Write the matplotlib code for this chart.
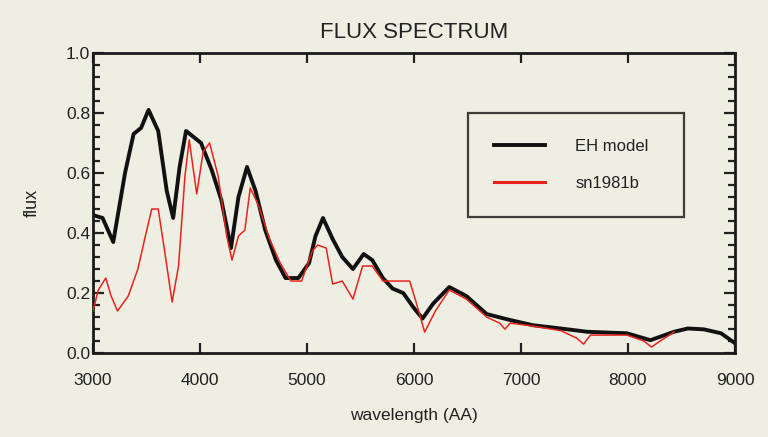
import matplotlib.pyplot as plt
from matplotlib.ticker import MultipleLocator

# EH model (czarna linia)
eh_wave = [3000, 3090, 3190, 3300, 3380, 3450, 3520, 3610, 3690, 3750, 3810, 3870, 3940,
           4010, 4110, 4200, 4290, 4360, 4440, 4520, 4610, 4710, 4800, 4920, 5020, 5080,
           5150, 5240, 5330, 5430, 5530, 5610, 5710, 5800, 5900, 6000, 6080, 6180, 6330,
           6490, 6680, 6900, 7110, 7370, 7620, 7990, 8210, 8430, 8560, 8710, 8870, 9000]
eh_flux = [0.46, 0.45, 0.37, 0.60, 0.73, 0.75, 0.81, 0.74, 0.54, 0.45, 0.62, 0.74, 0.72,
           0.70, 0.61, 0.51, 0.35, 0.52, 0.62, 0.54, 0.41, 0.31, 0.25, 0.25, 0.30, 0.39,
           0.45, 0.38, 0.32, 0.28, 0.33, 0.31, 0.25, 0.215, 0.20, 0.15, 0.115, 0.165, 0.22,
           0.19, 0.13, 0.11, 0.093, 0.082, 0.071, 0.066, 0.043, 0.071, 0.082, 0.079, 0.066, 0.033]

# sn1981b (czerwona linia)
sn_wave = [3000, 3050, 3120, 3170, 3230, 3330, 3420, 3490, 3550, 3610, 3670, 3740, 3800,
           3860, 3900, 3970, 4030, 4090, 4170, 4250, 4300, 4360, 4420, 4470, 4550, 4650,
           4750, 4850, 4950, 5050, 5100, 5180, 5240, 5330, 5430, 5520, 5610, 5710, 5830,
           5960, 6020, 6100, 6200, 6330, 6490, 6680, 6800, 6850, 6900, 7110, 7370, 7520,
           7585, 7650, 7990, 8150, 8220, 8300, 8430]
sn_flux = [0.14, 0.21, 0.25, 0.19, 0.14, 0.19, 0.28, 0.39, 0.48, 0.48, 0.34, 0.17, 0.29,
           0.59, 0.71, 0.53, 0.67, 0.70, 0.59, 0.39, 0.31, 0.39, 0.41, 0.55, 0.49, 0.38,
           0.30, 0.24, 0.24, 0.34, 0.36, 0.35, 0.23, 0.24, 0.18, 0.29, 0.29, 0.24, 0.24,
           0.24, 0.17, 0.07, 0.14, 0.21, 0.18, 0.12, 0.10, 0.08, 0.10, 0.09, 0.075, 0.05,
           0.03, 0.06, 0.06, 0.04, 0.02, 0.04, 0.07]

bg = '#efeee3'
plt.rcParams['font.family'] = 'Liberation Sans'

fig = plt.figure(figsize=(7.68, 4.37), dpi=100, facecolor=bg)
ax = fig.add_axes([0.121, 0.192, 0.836, 0.687], facecolor=bg)

ax.plot(eh_wave, eh_flux, color='#111111', lw=2.8, label='EH model', zorder=2)
ax.plot(sn_wave, sn_flux, color='#e8231c', lw=1.1, label='sn1981b', zorder=3)

ax.set_xlim(3000, 9000)
ax.set_ylim(0, 1.0)
ax.xaxis.set_major_locator(MultipleLocator(1000))
ax.yaxis.set_major_locator(MultipleLocator(0.2))
ax.yaxis.set_minor_locator(MultipleLocator(0.04))
ax.yaxis.set_major_formatter(plt.FormatStrFormatter('%.1f'))

ax.tick_params(which='both', direction='in', top=True, right=True, width=1.6, colors='#222222')
ax.tick_params(axis='x', which='major', length=7, pad=14, labelsize=12.5)
ax.tick_params(axis='y', which='major', length=8, pad=2, labelsize=12.5)
ax.tick_params(axis='y', which='minor', length=5)
for s in ax.spines.values():
    s.set_linewidth(2.0)
    s.set_color('#1a1a1a')

ax.set_title('FLUX SPECTRUM', fontsize=16, pad=11, color='#222222')
ax.set_xlabel('wavelength (AA)', fontsize=12.5, labelpad=15, color='#222222')
ax.set_ylabel('flux', fontsize=13, labelpad=18, color='#222222')

leg = ax.legend(loc='upper left', bbox_to_anchor=(0.584, 0.453, 0.337, 0.347),
                mode='expand', borderaxespad=0, fontsize=12, frameon=True, fancybox=False,
                handlelength=3.1, handletextpad=1.8, labelspacing=1.35, borderpad=1.55)
leg.get_frame().set_edgecolor('#111111')
leg.get_frame().set_linewidth(1.6)
leg.get_frame().set_facecolor(bg)
leg.legend_handles[1].set_linewidth(2.2)
for t in leg.get_texts():
    t.set_color('#222222')

fig.savefig('out.png', dpi=100, facecolor=bg)
